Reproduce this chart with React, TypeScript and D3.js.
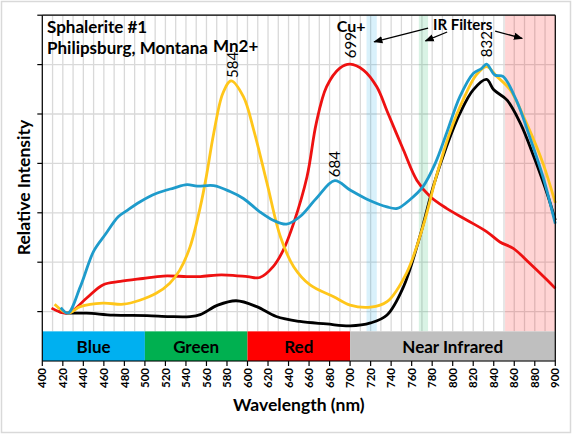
import React from "react";
import * as d3 from "d3";

type Pt = [number, number];

// Wavelength (nm), relative intensity (arbitrary units, gridline = 1)
const blueSeries: Pt[] = [
  [418, 1.08], [425, 0.97], [437, 1.5], [450, 2.22], [461, 2.55], [474, 2.92], [482, 3.04],
  [495, 3.22], [511, 3.39], [528, 3.5], [541, 3.57], [551, 3.54], [567, 3.55], [583, 3.43],
  [596, 3.29], [612, 3.02], [625, 2.85], [638, 2.77], [651, 2.92], [667, 3.29], [685, 3.65],
  [700, 3.46], [717, 3.27], [736, 3.12], [746, 3.09], [758, 3.26], [771, 3.53], [783, 4.0],
  [794, 4.61], [807, 5.35], [820, 5.82], [828, 5.92], [833, 6.01], [841, 5.79], [849, 5.76],
  [862, 5.28], [875, 4.54], [888, 3.73], [900, 2.78],
];
const yellowSeries: Pt[] = [
  [412, 1.15], [425, 0.97], [437, 1.1], [459, 1.17], [479, 1.15], [495, 1.23], [511, 1.37],
  [524, 1.57], [534, 1.84], [544, 2.31], [554, 3.12], [560, 3.75], [567, 4.6], [576, 5.42],
  [584, 5.67], [596, 5.35], [606, 4.68], [619, 3.6], [632, 2.52], [645, 1.91], [661, 1.54],
  [684, 1.3], [700, 1.13], [720, 1.09], [736, 1.2], [755, 1.78], [771, 2.72], [784, 3.73],
  [797, 4.61], [810, 5.28], [823, 5.79], [833, 5.96], [843, 5.76], [856, 5.49], [872, 4.81],
  [888, 4.0], [900, 3.2],
];
const redSeries: Pt[] = [
  [409, 1.07], [425, 0.97], [443, 1.27], [459, 1.54], [476, 1.61], [498, 1.67], [518, 1.72],
  [541, 1.71], [554, 1.71], [570, 1.74], [580, 1.74], [600, 1.71], [612, 1.69], [625, 1.91],
  [635, 2.25], [645, 2.79], [658, 3.73], [667, 4.81], [677, 5.55], [690, 5.93], [700, 6.01],
  [713, 5.89], [726, 5.55], [736, 5.06], [752, 4.27], [765, 3.66], [778, 3.33], [794, 3.09],
  [814, 2.85], [833, 2.62], [846, 2.41], [859, 2.28], [875, 1.98], [892, 1.64], [900, 1.47],
];
const blackSeries: Pt[] = [
  [416, 1.0], [425, 0.97], [443, 0.97], [469, 0.93], [502, 0.92], [524, 0.9], [544, 0.9],
  [554, 0.94], [571, 1.13], [589, 1.22], [609, 1.1], [628, 0.9], [651, 0.8], [677, 0.75],
  [700, 0.71], [720, 0.77], [736, 0.93], [752, 1.5], [768, 2.52], [781, 3.53], [794, 4.34],
  [807, 5.01], [820, 5.49], [833, 5.7], [840, 5.49], [853, 5.28], [866, 4.81], [879, 4.14],
  [892, 3.39], [900, 2.85],
];

const seriesColors = ["#000000", "#EE1111", "#FFC61A", "#1E9BCB"];
const seriesList = [blackSeries, redSeries, yellowSeries, blueSeries];

const xTicks = d3.range(400, 901, 20);
const xGrid = d3.range(400, 901, 10);
const yGrid = d3.range(0, 8, 1);

const spectrumBands = [
  { from: 400, to: 500, label: "Blue", color: "#00B0F0" },
  { from: 500, to: 600, label: "Green", color: "#00B050" },
  { from: 600, to: 700, label: "Red", color: "#FF0000" },
  { from: 700, to: 900, label: "Near Infrared", color: "#BFBFBF" },
];
const filterBands = [
  { from: 716, to: 726, color: "rgb(0,160,230)", opacity: 0.15 },
  { from: 767, to: 776, color: "rgb(0,176,80)", opacity: 0.15 },
  { from: 851, to: 900, color: "rgb(255,0,0)", opacity: 0.17 },
];
const peakLabels = [
  { nm: 584, y: 5.73, text: "584" },
  { nm: 684, y: 3.72, text: "684" },
  { nm: 699, y: 6.13, text: "699" },
  { nm: 832, y: 6.15, text: "832" },
];
const arrows = [
  { x1: 776, y1: 6.74, x2: 723.5, y2: 6.46 },
  { x1: 794.6, y1: 6.66, x2: 773.5, y2: 6.48 },
  { x1: 841.4, y1: 6.68, x2: 867.7, y2: 6.53 },
];

const W = 572;
const H = 434;
const FONT = "Lato, 'Open Sans', sans-serif";

export default function App() {
  const x = d3.scaleLinear().domain([400, 900]).range([42.3, 555.3]);
  const y = d3.scaleLinear().domain([0, 7]).range([361, 15.2]);
  const barTop = 0.6;

  const line = d3
    .line<Pt>()
    .x((d) => x(d[0]))
    .y((d) => y(d[1]))
    .curve(d3.curveCatmullRom.alpha(0.5));

  return (
    <svg
      width={W}
      height={H}
      style={{ position: "absolute", left: 0, top: 0, background: "#fff" }}
      fontFamily={FONT}
    >
      <defs>
        <marker id="ah" viewBox="0 0 10 10" refX="9" refY="5" markerWidth="7" markerHeight="7" orient="auto">
          <path d="M0,1 L10,5 L0,9 z" fill="#000" />
        </marker>
      </defs>
      <rect x={1.5} y={1.5} width={W - 3} height={H - 3} fill="#fff" stroke="#D9D9D9" strokeWidth={1.5} />

      {/* gridlines */}
      {xGrid.map((v) => (
        <line key={"gx" + v} x1={x(v)} x2={x(v)} y1={y(7)} y2={y(barTop)} stroke="#D9D9D9" strokeWidth={1.3} />
      ))}
      {yGrid.map((v) => (
        <line key={"gy" + v} x1={x(400)} x2={x(900)} y1={y(v)} y2={y(v)} stroke="#D9D9D9" strokeWidth={1.3} />
      ))}

      {/* filter bands */}
      {filterBands.map((b, i) => (
        <rect
          key={"fb" + i}
          x={x(b.from)}
          width={x(b.to) - x(b.from)}
          y={y(7)}
          height={y(barTop) - y(7)}
          fill={b.color}
          fillOpacity={b.opacity}
        />
      ))}

      {/* spectrum bar */}
      {spectrumBands.map((b) => (
        <g key={b.label}>
          <rect x={x(b.from)} width={x(b.to) - x(b.from)} y={y(barTop)} height={y(0) - y(barTop)} fill={b.color} />
          <text
            x={(x(b.from) + x(b.to)) / 2}
            y={352.7}
            textAnchor="middle"
            fontSize={17}
            fontWeight="bold"
            fill="#000"
          >
            {b.label}
          </text>
        </g>
      ))}

      {/* series */}
      {seriesList.map((s, i) => (
        <path key={"s" + i} d={line(s) || ""} fill="none" stroke={seriesColors[i]} strokeWidth={2.8} strokeLinejoin="round" />
      ))}

      {/* frame & axes */}
      <line x1={x(400)} x2={x(900)} y1={y(7)} y2={y(7)} stroke="#000" strokeWidth={1.2} />
      <line x1={x(900)} x2={x(900)} y1={y(7)} y2={y(0)} stroke="#000" strokeWidth={1.2} />
      <line x1={x(400)} x2={x(400)} y1={y(7)} y2={y(0)} stroke="#000" strokeWidth={1.2} />
      <line x1={x(400)} x2={x(900)} y1={y(0)} y2={y(0)} stroke="#000" strokeWidth={1.2} />
      {yGrid.slice(1).map((v) => (
        <line key={"yt" + v} x1={x(400) - 5} x2={x(400)} y1={y(v)} y2={y(v)} stroke="#000" strokeWidth={1.2} />
      ))}
      {xTicks.map((v) => (
        <g key={"xt" + v}>
          <line x1={x(v)} x2={x(v)} y1={y(0)} y2={y(0) + 5} stroke="#000" strokeWidth={1.2} />
          <text
            transform={`translate(${x(v)},${368}) rotate(-90)`}
            textAnchor="end"
            dy="0.36em"
            fontSize={11.5}
            fontWeight="bold"
            fill="#000"
          >
            {v}
          </text>
        </g>
      ))}

      {/* axis titles */}
      <text x={(x(400) + x(900)) / 2} y={411} textAnchor="middle" fontSize={17.5} fontWeight="bold" fill="#000">
        Wavelength (nm)
      </text>
      <text transform={`translate(29.5,${187.5}) rotate(-90)`} textAnchor="middle" fontSize={17.5} fontWeight="bold" fill="#000">
        Relative Intensity
      </text>

      {/* annotations */}
      <text x={47} y={33.3} fontSize={17} fontWeight="bold" fill="#000">Sphalerite #1</text>
      <text x={47} y={54} fontSize={17} fontWeight="bold" fill="#000">Philipsburg, Montana</text>
      <text x={213} y={51.5} fontSize={17} fontWeight="bold" fill="#000">Mn2+</text>
      <text x={336.7} y={32} fontSize={16} fontWeight="bold" fill="#000">Cu+</text>
      <text x={433} y={30} fontSize={15} fontWeight="bold" fill="#000">IR Filters</text>
      {peakLabels.map((p) => (
        <text
          key={p.text}
          transform={`translate(${x(p.nm) + 6.6},${y(p.y)}) rotate(-90)`}
          textAnchor="start"
          fontSize={15}
          fill="#000"
        >
          {p.text}
        </text>
      ))}
      {arrows.map((a, i) => (
        <line
          key={"ar" + i}
          x1={x(a.x1)}
          y1={y(a.y1)}
          x2={x(a.x2)}
          y2={y(a.y2)}
          stroke="#000"
          strokeWidth={1.3}
          markerEnd="url(#ah)"
        />
      ))}
    </svg>
  );
}
